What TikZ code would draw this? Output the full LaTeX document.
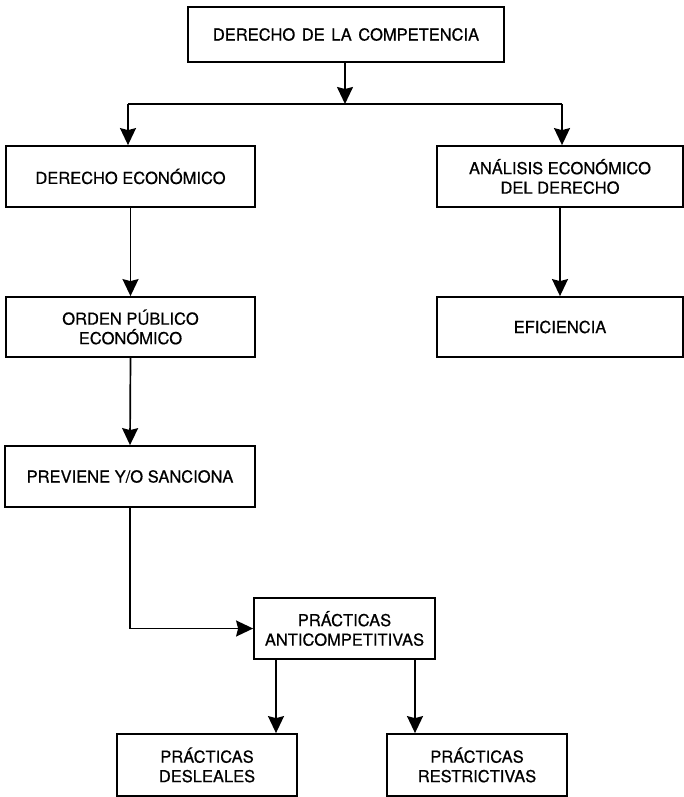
\documentclass[tikz,border=0pt]{standalone}
\usepackage{fontspec}
\setmainfont{TeX Gyre Heros}
\newfontfamily\boxfont{TeX Gyre Heros}[FakeBold=0.6]
\usetikzlibrary{arrows.meta}
\begin{document}
\begin{tikzpicture}[x=1pt,y=-1pt,
  box/.style={draw, line width=1.8pt, rectangle, inner sep=0pt, align=center,
    font=\boxfont\fontsize{16.5}{19.5}\selectfont},
  arr/.style={line width=1.7pt, -{Stealth[length=17pt,width=16pt,inset=2pt]}},
  conn/.style={line width=1.7pt}]
\useasboundingbox (0,0) rectangle (683,797);
\node[box, minimum width=316pt, minimum height=55pt] (top) at (346,34.5) {DERECHO\hspace{0.4em}DE\hspace{0.4em}LA\hspace{0.4em}COMPETENCIA};
\node[box, minimum width=249pt, minimum height=61pt] (de) at (130.5,176.5) {DERECHO ECONÓMICO};
\node[box, minimum width=246pt, minimum height=61pt] (aed) at (560,176.5) {ANÁLISIS ECONÓMICO\\DEL DERECHO};
\node[box, minimum width=249pt, minimum height=60pt] (ope) at (130.5,327) {ORDEN PÚBLICO\\ECONÓMICO};
\node[box, minimum width=246pt, minimum height=60pt] (ef) at (560,327) {EFICIENCIA};
\node[box, minimum width=250pt, minimum height=61pt] (pre) at (130,476.5) {PREVIENE Y/O SANCIONA};
\node[box, minimum width=181pt, minimum height=61pt] (anti) at (344.5,628.5) {PRÁCTICAS\\ANTICOMPETITIVAS};
\node[box, minimum width=180pt, minimum height=62pt] (des) at (207,765) {PRÁCTICAS\\DESLEALES};
\node[box, minimum width=180pt, minimum height=62pt] (res) at (477,765) {PRÁCTICAS\\RESTRICTIVAS};
\coordinate (j) at (345,104);
\coordinate (jl) at (128,104);
\coordinate (jr) at (562,104);
\draw[arr] (top.south -| j) -- (j);
\draw[conn] (jl) -- (jr);
\draw[arr] (jl) -- (jl |- de.north);
\draw[arr] (jr) -- (jr |- aed.north);
\draw[arr] (de.south) -- (ope.north);
\draw[arr] (aed.south) -- (ef.north);
\draw[arr] (ope.south) -- (pre.north);
\draw[arr] (pre.south) |- (anti.west);
\coordinate (a1) at ([xshift=-68.5pt]anti.south);
\coordinate (a2) at ([xshift=70.5pt]anti.south);
\draw[arr] (a1) -- (a1 |- des.north);
\draw[arr] (a2) -- (a2 |- res.north);
\end{tikzpicture}
\end{document}
